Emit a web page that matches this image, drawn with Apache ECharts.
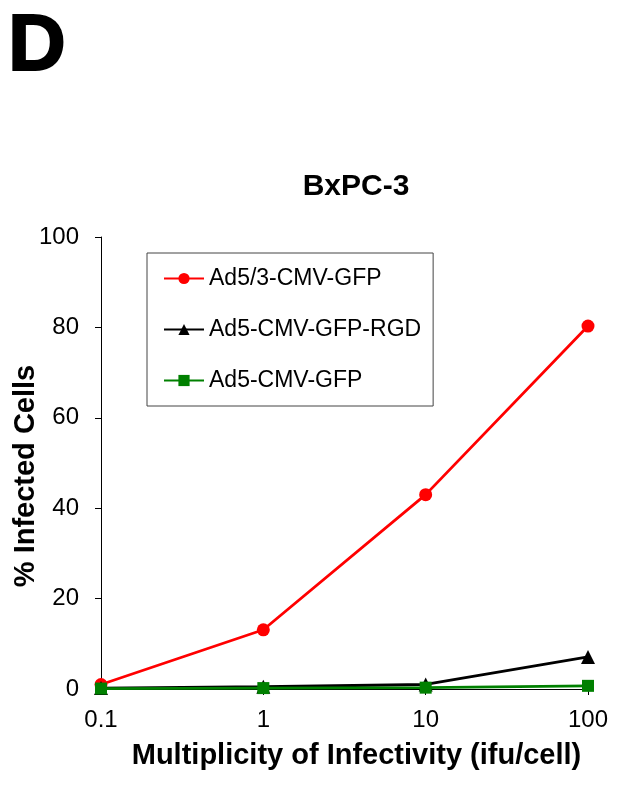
<!DOCTYPE html>
<html>
<head>
<meta charset="utf-8">
<script src="https://cdn.jsdelivr.net/npm/echarts@6/dist/echarts.min.js"></script>
<style>html,body{margin:0;padding:0;background:#fff;}#c{width:618px;height:786px;}</style>
</head>
<body>
<div id="c"></div>
<script>
const moi = [0.1, 1, 10, 100];
const seriesNames = ['Ad5/3-CMV-GFP', 'Ad5-CMV-GFP-RGD', 'Ad5-CMV-GFP'];
const ad53 = [1.0, 13.1, 43.0, 80.3];
const ad5rgd = [0.2, 0.5, 1.0, 7.1];
const ad5 = [0.1, 0.2, 0.3, 0.7];
const yTicks = [0, 20, 40, 60, 80, 100];

const chart = echarts.init(document.getElementById('c'));
const font = 'Arial, "Liberation Sans", sans-serif';
function pairs(vals){ return moi.map((x,i)=>[x, vals[i]]); }
chart.setOption({
  animation: false,
  backgroundColor: '#fff',
  textStyle: { fontFamily: font },
  title: [
    { text: 'D', left: 3, top: 3, textStyle: { fontSize: 80, fontWeight: 'bold', color: '#000', fontFamily: font, textBorderColor: '#000', textBorderWidth: 2 } },
    { text: 'BxPC-3', left: 351, top: 167, textAlign: 'center', textStyle: { fontSize: 30, fontWeight: 'bold', color: '#000', fontFamily: font } }
  ],
  grid: { left: 101, right: 30, top: 237, bottom: 97, containLabel: false, outerBoundsMode: 'none' },
  legend: {
    orient: 'vertical', left: 147, top: 253,
    padding: [14, 12, 14, 16],
    itemGap: 28, itemWidth: 40, itemHeight: 14,
    borderColor: '#444', borderWidth: 1,
    textStyle: { fontSize: 23, color: '#000', fontFamily: font },
    data: seriesNames
  },
  xAxis: {
    type: 'log', logBase: 10, min: 0.1, max: 100,
    name: 'Multiplicity of Infectivity (ifu/cell)', nameLocation: 'middle', nameGap: 52, nameMoveOverlap: false,
    nameTextStyle: { fontSize: 29, fontWeight: 'bold', color: '#000', fontFamily: font, padding: [0, 0, 0, 24] },
    axisLine: { lineStyle: { color: '#000', width: 1 } },
    axisTick: { show: true, inside: false, length: 6, lineStyle: { color: '#000' } },
    axisLabel: { fontSize: 24, color: '#000', margin: 19, fontFamily: font, formatter: v => String(+Number(v).toPrecision(3)) },
    splitLine: { show: false },
    minorTick: { show: false }
  },
  yAxis: {
    type: 'value', min: 0, max: 100, interval: 20,
    name: '% Infected Cells', nameLocation: 'middle', nameGap: 61, nameRotate: 90, nameMoveOverlap: false,
    nameTextStyle: { fontSize: 29, fontWeight: 'bold', color: '#000', fontFamily: font, padding: [0, 26, 0, 0] },
    axisLine: { show: true, lineStyle: { color: '#000', width: 1 } },
    axisTick: { show: true, inside: false, length: 6, lineStyle: { color: '#000' } },
    axisLabel: { fontSize: 24, color: '#000', margin: 22, fontFamily: font },
    splitLine: { show: false }
  },
  series: [
    { name: seriesNames[0], type: 'line', data: pairs(ad53), symbol: 'circle', symbolSize: 13,
      itemStyle: { color: '#ff0000' }, lineStyle: { color: '#ff0000', width: 2.8 } },
    { name: seriesNames[1], type: 'line', data: pairs(ad5rgd), symbol: 'triangle', symbolSize: 14,
      itemStyle: { color: '#000000' }, lineStyle: { color: '#000000', width: 2.8 } },
    { name: seriesNames[2], type: 'line', data: pairs(ad5), symbol: 'rect', symbolSize: 12,
      itemStyle: { color: '#008000' }, lineStyle: { color: '#008000', width: 2.8 } }
  ]
});
</script>
</body>
</html>
